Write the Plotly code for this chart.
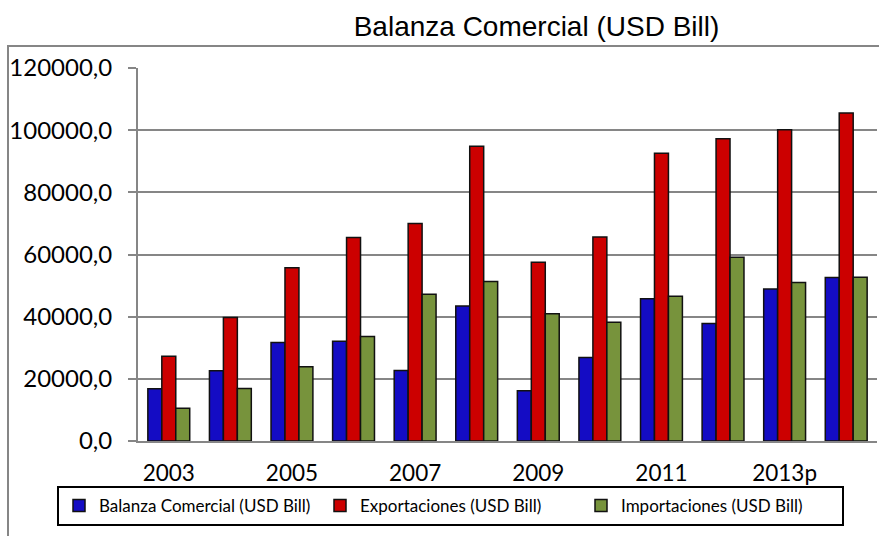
import plotly.graph_objects as go

categories = ["2003", "2004", "2005", "2006", "2007", "2008", "2009", "2010",
              "2011", "2012", "2013p", "2014p"]
balanza = [16800, 22600, 31700, 32100, 22700, 43400, 16200, 26900, 45800, 37800, 48900, 52600]
exportaciones = [27300, 39700, 55700, 65500, 70000, 94800, 57500, 65600, 92600, 97200, 100100, 105500]
importaciones = [10500, 16900, 23900, 33600, 47200, 51300, 40900, 38200, 46600, 59100, 51000, 52700]
shown_ticks = ["2003", "2005", "2007", "2009", "2011", "2013p"]

names = ["Balanza Comercial (USD Bill)", "Exportaciones (USD Bill)", "Importaciones (USD Bill)"]
colors = ["#140CC4", "#CC0000", "#77933C"]

W, H = 879, 536
L, R, T, B = 138, 2, 68, 95
pw, ph = W - L - R, H - T - B

fig = go.Figure()
for name, vals, col in zip(names, [balanza, exportaciones, importaciones], colors):
    fig.add_trace(go.Bar(x=categories, y=vals, name=name,
                         marker=dict(color=col, line=dict(color="#111111", width=1.5))))

def px_x(px):
    return (px - L) / pw

def px_y(py):
    return (H - B - py) / ph

fig.update_layout(
    width=W, height=H,
    margin=dict(l=L, r=R, t=T, b=B),
    paper_bgcolor="white", plot_bgcolor="white",
    separators=",.",
    barmode="group", bargap=0.32, bargroupgap=0,
    title=dict(text="Balanza Comercial (USD Bill)", x=536.5 / W, xanchor="center",
               xref="container", yref="container", y=1 - 26 / H, yanchor="middle",
               font=dict(family="Liberation Sans", size=28, color="black")),
    font=dict(family="Lato", color="black"),
    showlegend=True,
    legend=dict(orientation="h", x=px_x(57), xanchor="left", y=px_y(486), yanchor="top",
                bordercolor="black", borderwidth=2, bgcolor="white",
                font=dict(family="Lato", size=17, color="black"),
                entrywidth=216, traceorder="normal"),
    xaxis=dict(type="category", tickvals=shown_ticks, ticktext=shown_ticks,
               showline=True, linecolor="#868686", linewidth=2, ticks="",
               tickfont=dict(family="Lato", size=22.5, color="black"),
               ticklabelstandoff=11, showgrid=False),
    yaxis=dict(range=[0, 120000], dtick=20000, tickformat=".1f",
               showline=True, linecolor="#868686", linewidth=2,
               ticks="outside", ticklen=8, tickcolor="#868686", tickwidth=2,
               showgrid=True, gridcolor="#868686", gridwidth=2,
               tickfont=dict(family="Lato", size=24, color="black"),
               ticklabelstandoff=11, zeroline=False),
    shapes=[dict(type="rect", xref="paper", yref="paper",
                 x0=px_x(8), x1=px_x(890), y0=px_y(600), y1=px_y(46),
                 line=dict(color="#868686", width=2), layer="below")],
)

fig.write_html("out.html", config={"displayModeBar": False},
               post_script="document.body.style.margin='0px';")
